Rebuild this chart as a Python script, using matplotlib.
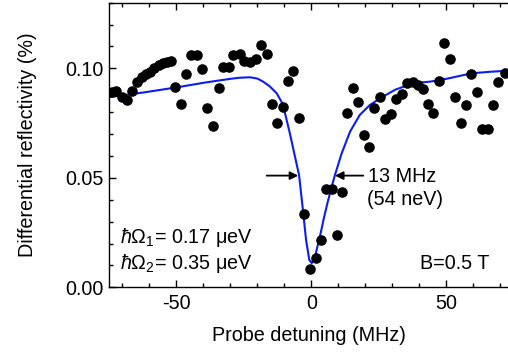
import matplotlib
matplotlib.use("Agg")
import matplotlib.pyplot as plt
from matplotlib.ticker import MultipleLocator

plt.rcParams['font.family'] = ['Liberation Sans', 'DejaVu Sans']
plt.rcParams['mathtext.fontset'] = 'custom'
plt.rcParams['mathtext.rm'] = 'Liberation Sans'
plt.rcParams['mathtext.it'] = 'Liberation Sans:italic'
plt.rcParams['mathtext.bf'] = 'Liberation Sans:bold'

# measured data (probe detuning in MHz, differential reflectivity in %)
det = [-74.0, -72.4, -70.3, -68.4, -66.6, -64.5, -62.9, -61.3, -59.8, -58.2,
       -56.5, -54.9, -53.6, -52.1, -50.4, -48.4, -46.5, -44.6, -42.5, -40.4,
       -38.6, -36.4, -34.4, -32.7, -30.4, -29.0, -26.5, -24.9, -22.8, -20.6,
       -18.7, -16.6, -14.7, -12.7, -10.4, -8.6, -6.7, -4.5, -2.8, -0.6,
       1.5, 3.4, 5.4, 7.5, 9.3, 11.3, 13.3, 15.4, 17.3, 19.3,
       21.2, 23.3, 25.4, 27.2, 29.3, 31.3, 33.4, 35.3, 37.5, 39.6,
       41.4, 43.3, 45.1, 47.3, 49.1, 51.3, 53.1, 55.3, 57.2, 59.1,
       61.2, 63.1, 65.3, 67.1, 69.2, 71.7]
refl = [0.0893, 0.0898, 0.0868, 0.0855, 0.0898, 0.0939, 0.0962, 0.0974, 0.0984, 0.1000,
        0.1015, 0.1023, 0.1030, 0.1035, 0.0916, 0.0837, 0.0974, 0.1061, 0.1061, 0.0995,
        0.0817, 0.0737, 0.0909, 0.1007, 0.1005, 0.1061, 0.1065, 0.1035, 0.1027, 0.1041,
        0.1106, 0.1065, 0.0837, 0.0749, 0.0822, 0.0943, 0.0989, 0.0772, 0.0335, 0.0082,
        0.0134, 0.0215, 0.0450, 0.0450, 0.0241, 0.0437, 0.0795, 0.0909, 0.0846, 0.0697,
        0.0642, 0.0817, 0.0870, 0.0768, 0.0790, 0.0858, 0.0881, 0.0932, 0.0939, 0.0924,
        0.0904, 0.0837, 0.0797, 0.0943, 0.1117, 0.1042, 0.0870, 0.0752, 0.0832, 0.0974,
        0.0893, 0.0721, 0.0721, 0.0832, 0.0939, 0.0980]

# fitted curve
fit_det = [-75.0, -62.0, -49.9, -39.4, -30.0, -26.5, -22.8, -20.0, -17.9, -15.5,
           -12.9, -11.0, -9.8, -8.0, -6.1, -4.6, -3.3, -2.0, -0.8, 0.1,
           1.3, 2.3, 3.4, 4.6, 5.9, 7.3, 8.7, 11.2, 14.3, 17.9,
           21.6, 25.4, 31.0, 37.7, 43.9, 50.0, 59.3, 66.0, 72.8]
fit_refl = [0.0868, 0.0890, 0.0913, 0.0935, 0.0952, 0.0957, 0.0959, 0.0953, 0.0939, 0.0918,
            0.0886, 0.0845, 0.0795, 0.0703, 0.0596, 0.0513, 0.0368, 0.0216, 0.0125, 0.0110,
            0.0140, 0.0190, 0.0247, 0.0316, 0.0384, 0.0450, 0.0513, 0.0612, 0.0711, 0.0787,
            0.0832, 0.0863, 0.0902, 0.0932, 0.0939, 0.0952, 0.0977, 0.0984, 0.0989]

FS = 14.2
W, H = 508, 352
fig = plt.figure(figsize=(W / 100, H / 100), dpi=100)
left_px, right_px, top_px, bottom_px = 109, 508, 2.6, 287.3
ax = fig.add_axes([left_px / W, 1 - bottom_px / H,
                   (right_px - left_px) / W, (bottom_px - top_px) / H])

ax.plot(fit_det, fit_refl, color='#0a1ef0', lw=1.5, zorder=2)
ax.plot(det, refl, 'o', color='black', ms=6.6, mec='black', zorder=3)

ax.set_xlim(-75, 72.8)
ax.set_ylim(0, 0.13)
ax.xaxis.set_minor_locator(MultipleLocator(10))
ax.yaxis.set_minor_locator(MultipleLocator(0.01))
ax.set_yticks([0.0, 0.05, 0.10])
ax.set_yticklabels(['0.00', '0.05', '0.10'])
ax.set_xticks([-50, 0, 50])
ax.set_xticklabels(['-50', '0', '50'])
ax.tick_params(which='both', direction='in', top=True, right=False, width=1.0,
               labelsize=FS, colors='black')
ax.tick_params(axis='x', which='major', length=5, pad=5)
ax.tick_params(axis='y', which='major', length=5, pad=4)
ax.tick_params(which='minor', length=3)
for s in ['left', 'bottom', 'top']:
    ax.spines[s].set_linewidth(1.0)
ax.spines['right'].set_visible(False)

ax.set_xlabel('Probe detuning (MHz)', fontsize=FS, labelpad=9)
ax.set_ylabel('Differential reflectivity (%)', fontsize=FS, labelpad=20)

# FWHM arrows
ax.annotate('', xy=(-4.9, 0.051), xytext=(-16.6, 0.051),
            arrowprops=dict(arrowstyle='-|>', color='black', lw=1.3,
                            mutation_scale=12, shrinkA=0, shrinkB=0))
ax.annotate('', xy=(8.7, 0.051), xytext=(19.2, 0.051),
            arrowprops=dict(arrowstyle='-|>', color='black', lw=1.3,
                            mutation_scale=12, shrinkA=0, shrinkB=0))
ax.text(20.9, 0.0505, '13 MHz', fontsize=FS, ha='left', va='center')
ax.text(20.7, 0.0400, '(54 neV)', fontsize=FS, ha='left', va='center')

ax.text(-71.0, 0.0228, r'$\hbar\Omega_1$= 0.17 μeV', fontsize=FS,
        ha='left', va='center')
ax.text(-71.0, 0.0110, r'$\hbar\Omega_2$= 0.35 μeV', fontsize=FS,
        ha='left', va='center')
ax.text(66.0, 0.0110, 'B=0.5 T', fontsize=FS, ha='right', va='center')

fig.savefig('out.png', dpi=100)
